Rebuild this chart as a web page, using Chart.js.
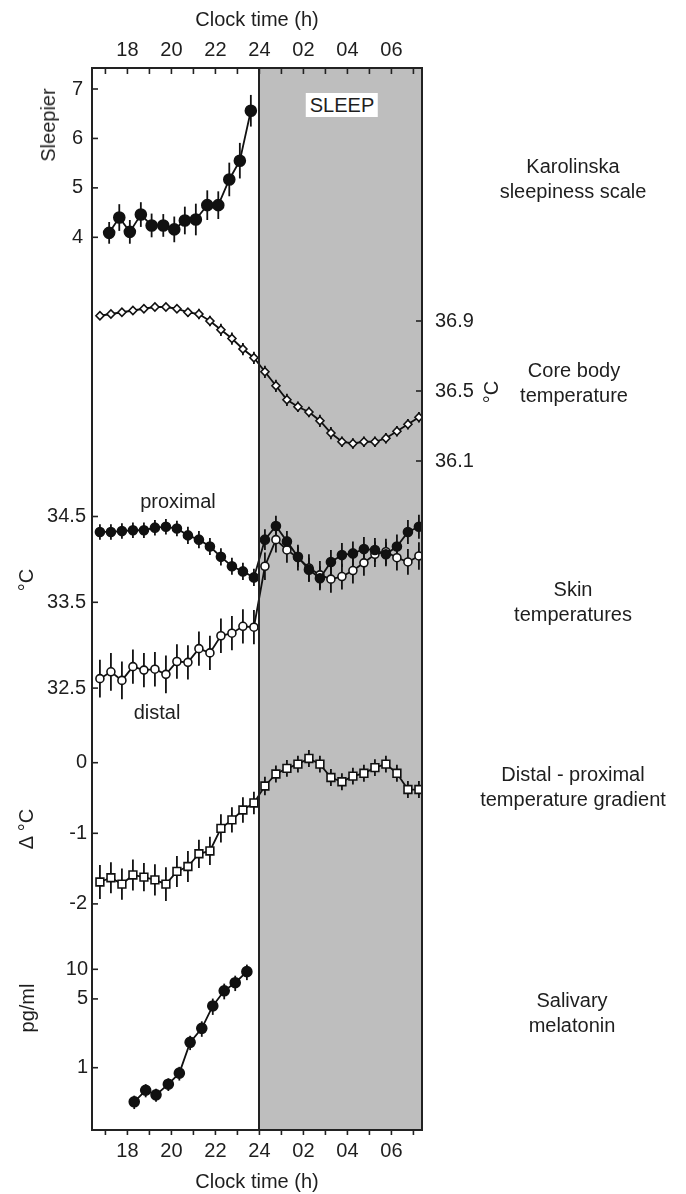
<!DOCTYPE html>
<html>
<head>
<meta charset="utf-8">
<script src="https://cdn.jsdelivr.net/npm/chart.js@4/dist/chart.umd.min.js"></script>
<style>
html,body{margin:0;padding:0;background:#fff;}
#wrap{position:relative;width:686px;height:1194px;overflow:hidden;font-family:"Liberation Sans",Arial,Helvetica,sans-serif;color:#1e1e1e;}
canvas{position:absolute;left:0;top:0;}
.t{position:absolute;font-size:20px;line-height:25px;white-space:nowrap;transform:translate(-50%,-50%);text-align:center;}
.r{position:absolute;font-size:20px;line-height:22px;white-space:nowrap;transform:translate(-50%,-50%) rotate(-90deg);}
.sleep{position:absolute;font-size:20px;line-height:22px;background:#fff;padding:1px 4px;transform:translate(-50%,-50%);}
</style>
</head>
<body>
<div id="wrap">
<canvas id="c" width="686" height="1194"></canvas>
<div class="sleep" style="left:342px;top:105px;">SLEEP</div>
<div class="r" style="left:48px;top:125px;">Sleepier</div>
<div class="r" style="left:491px;top:392px;">°C</div>
<div class="r" style="left:26px;top:580px;">°C</div>
<div class="r" style="left:26px;top:829px;">Δ °C</div>
<div class="r" style="left:27px;top:1008px;">pg/ml</div>
<div class="t" style="left:178px;top:501px;">proximal</div>
<div class="t" style="left:157px;top:712px;">distal</div>
<div class="t" style="left:573px;top:179px;">Karolinska<br>sleepiness scale</div>
<div class="t" style="left:574px;top:383px;">Core body<br>temperature</div>
<div class="t" style="left:573px;top:602px;">Skin<br>temperatures</div>
<div class="t" style="left:573px;top:787px;">Distal - proximal<br>temperature gradient</div>
<div class="t" style="left:572px;top:1013px;">Salivary<br>melatonin</div>
</div>
<script>
// ---------------- data ----------------
const sleepStart = 24;
const xTickHours = [17,18,19,20,21,22,23,24,25,26,27,28,29,30,31];
const xLabelHours = [18,20,22,24,26,28,30];
const xLabels = ['18','20','22','24','02','04','06'];

const hours = [16.75,17.25,17.75,18.25,18.75,19.25,19.75,20.25,20.75,21.25,21.75,22.25,22.75,23.25,23.75,
               24.25,24.75,25.25,25.75,26.25,26.75,27.25,27.75,28.25,28.75,29.25,29.75,30.25,30.75,31.25];

const kssHours = [17.17,17.63,18.11,18.61,19.1,19.63,20.13,20.61,21.11,21.63,22.13,22.63,23.11,23.61];
const kss      = [4.09,4.40,4.11,4.46,4.24,4.24,4.16,4.34,4.36,4.65,4.65,5.17,5.55,6.56];
const kssErr   = [0.22,0.27,0.24,0.25,0.24,0.23,0.26,0.28,0.32,0.30,0.28,0.34,0.36,0.32];
const kssTicks = [4,5,6,7];

const coreTemp = [36.93,36.94,36.95,36.96,36.97,36.98,36.98,36.97,36.95,36.94,36.90,36.85,36.80,36.74,36.69,
                  36.61,36.53,36.45,36.41,36.38,36.33,36.26,36.21,36.20,36.21,36.21,36.23,36.27,36.31,36.35];
const coreErr  = [0.02,0.02,0.02,0.02,0.02,0.02,0.02,0.02,0.025,0.03,0.03,0.035,0.035,0.035,0.035,
                  0.035,0.035,0.035,0.03,0.03,0.035,0.035,0.03,0.03,0.03,0.03,0.03,0.03,0.03,0.03];
const coreTicks = [36.1,36.5,36.9];

const proximal    = [34.32,34.32,34.33,34.34,34.34,34.37,34.38,34.36,34.28,34.23,34.15,34.03,33.92,33.86,33.79,
                     34.23,34.39,34.21,34.03,33.88,33.78,33.97,34.05,34.07,34.12,34.11,34.06,34.15,34.32,34.38];
const proximalErr = [0.09,0.09,0.09,0.09,0.09,0.09,0.09,0.09,0.1,0.1,0.1,0.1,0.1,0.1,0.1,
                     0.12,0.12,0.12,0.12,0.14,0.14,0.14,0.14,0.14,0.14,0.14,0.14,0.14,0.14,0.14];
const distal      = [32.61,32.69,32.59,32.75,32.71,32.72,32.66,32.81,32.80,32.96,32.91,33.11,33.14,33.22,33.21,
                     33.92,34.23,34.11,34.02,33.90,33.82,33.77,33.80,33.87,33.96,34.06,34.09,34.02,33.97,34.04];
const distalErr   = [0.22,0.22,0.22,0.2,0.2,0.2,0.22,0.2,0.2,0.2,0.2,0.2,0.2,0.2,0.2,
                     0.16,0.15,0.15,0.15,0.16,0.16,0.16,0.15,0.15,0.15,0.15,0.15,0.15,0.15,0.16];
const skinTicks = [32.5,33.5,34.5];

const gradient    = [-1.69,-1.63,-1.72,-1.59,-1.62,-1.66,-1.72,-1.54,-1.47,-1.29,-1.25,-0.93,-0.81,-0.67,-0.57,
                     -0.33,-0.16,-0.08,-0.02,0.06,-0.02,-0.21,-0.27,-0.19,-0.15,-0.07,-0.02,-0.15,-0.38,-0.38];
const gradientErr = [0.24,0.22,0.22,0.22,0.2,0.22,0.24,0.22,0.22,0.2,0.2,0.2,0.18,0.18,0.16,
                     0.13,0.12,0.12,0.12,0.12,0.12,0.12,0.12,0.12,0.12,0.12,0.12,0.12,0.12,0.12];
const gradTicks = [-2,-1,0];
const gradLabels = ['-2','-1','0'];

const melHours = [18.31,18.83,19.3,19.86,20.36,20.85,21.38,21.88,22.4,22.9,23.43];
const melatonin = [0.45,0.59,0.53,0.68,0.88,1.81,2.51,4.24,6.05,7.31,9.46];
const melErr    = [0.07,0.09,0.08,0.1,0.14,0.3,0.45,0.8,1.1,1.3,1.7];
const melTicks = [1,5,10];

// ---------------- layout ----------------
const AREA_TOP = 68, AREA_BOTTOM = 1130;
const FONT = {family:'"Liberation Sans", Arial, sans-serif', size:20};
const INK = '#1e1e1e';

function linRange(v1, p1, v2, p2){
  const k = (p1 - p2) / (v2 - v1); // px per unit
  return {min: v1 - (AREA_BOTTOM - p1) / k, max: v1 + (p1 - AREA_TOP) / k};
}
function logRange(v1, p1, v2, p2){
  const l1 = Math.log10(v1), l2 = Math.log10(v2);
  const k = (p1 - p2) / (l2 - l1);
  return {min: Math.pow(10, l1 - (AREA_BOTTOM - p1) / k), max: Math.pow(10, l1 + (p1 - AREA_TOP) / k)};
}

function yAxis(position, range, tickVals, tickLabels, pad, type){
  return {
    type: type || 'linear', position, min: range.min, max: range.max,
    grid: {display:false, drawTicks:false}, border: {display:false},
    afterBuildTicks: s => { s.ticks = tickVals.map(v => ({value:v})); },
    afterFit: s => { s.width = 0; s._computeLabelArea = () => undefined; },
    ticks: {autoSkip:false, padding:pad, color:INK, font:FONT,
            callback: (v) => { const i = tickVals.indexOf(v); return i >= 0 ? tickLabels[i] : ''; }}
  };
}
function xAxis(position, height, pad, titlePad){
  return {
    type:'linear', position, min: 16.39, max: 31.39,
    grid: {display:false, drawTicks:false}, border: {display:false},
    afterBuildTicks: s => { s.ticks = xTickHours.map(v => ({value:v})); },
    afterFit: s => { s.height = height; },
    ticks: {autoSkip:false, maxRotation:0, minRotation:0, padding:pad, color:INK, font:FONT,
            callback: (v) => { const i = xLabelHours.indexOf(v); return i >= 0 ? xLabels[i] : ''; }},
    title: {display:true, text:'Clock time (h)', color:INK, font:FONT, padding:titlePad}
  };
}

const pts = (xs, ys) => xs.map((x, i) => ({x, y: ys[i]}));

const frameTicks = [
  {axis:'yK', vals:kssTicks, dir:1},
  {axis:'yS', vals:skinTicks, dir:1},
  {axis:'yG', vals:gradTicks, dir:1},
  {axis:'yM', vals:melTicks, dir:1},
  {axis:'yC', vals:coreTicks, dir:-1}
];

const framePlugin = {
  id:'frame',
  beforeDatasetsDraw(chart){
    const {ctx, chartArea:a, scales} = chart;
    const x24 = scales.x.getPixelForValue(sleepStart);
    ctx.save();
    ctx.fillStyle = '#bebebe';
    ctx.fillRect(x24, a.top, a.right - x24, a.bottom - a.top);
    ctx.strokeStyle = '#111';
    ctx.lineWidth = 1.8;
    chart.data.datasets.forEach((ds, i) => {
      if (!ds.errors) return;
      const meta = chart.getDatasetMeta(i);
      const ys = scales[ds.yAxisID];
      meta.data.forEach((pt, j) => {
        const v = ds.data[j].y, e = ds.errors[j];
        ctx.beginPath();
        ctx.moveTo(pt.x, ys.getPixelForValue(v - e));
        ctx.lineTo(pt.x, ys.getPixelForValue(v + e));
        ctx.stroke();
      });
    });
    ctx.restore();
  },
  afterDraw(chart){
    const {ctx, chartArea:a, scales} = chart;
    ctx.save();
    ctx.strokeStyle = '#222';
    ctx.lineWidth = 2;
    ctx.strokeRect(a.left, a.top, a.right - a.left, a.bottom - a.top);
    const x24 = Math.round(scales.x.getPixelForValue(sleepStart));
    ctx.beginPath(); ctx.moveTo(x24, a.top); ctx.lineTo(x24, a.bottom); ctx.stroke();
    ctx.lineWidth = 1.6;
    xTickHours.forEach(h => {
      const px = scales.x.getPixelForValue(h);
      ctx.beginPath(); ctx.moveTo(px, a.top); ctx.lineTo(px, a.top + 6); ctx.stroke();
      ctx.beginPath(); ctx.moveTo(px, a.bottom); ctx.lineTo(px, a.bottom + 5); ctx.stroke();
    });
    frameTicks.forEach(f => {
      const s = scales[f.axis];
      const x0 = f.dir > 0 ? a.left : a.right;
      f.vals.forEach(v => {
        const py = s.getPixelForValue(v);
        ctx.beginPath(); ctx.moveTo(x0, py); ctx.lineTo(x0 + f.dir * 6, py); ctx.stroke();
      });
    });
    ctx.restore();
  }
};

const lineBase = {borderColor:'#111', borderWidth:1.8, tension:0, pointBorderColor:'#111', pointBorderWidth:1.6, xAxisID:'x'};

new Chart(document.getElementById('c'), {
  type:'line',
  data:{datasets:[
    Object.assign({}, lineBase, {label:'Karolinska sleepiness scale', yAxisID:'yK', data:pts(kssHours, kss), errors:kssErr,
      pointStyle:'circle', pointRadius:5.5, pointBackgroundColor:'#111'}),
    Object.assign({}, lineBase, {label:'Core body temperature', yAxisID:'yC', data:pts(hours, coreTemp), errors:coreErr,
      pointStyle:'rectRot', pointRadius:4, pointBackgroundColor:'#fff'}),
    Object.assign({}, lineBase, {label:'proximal', yAxisID:'yS', data:pts(hours, proximal), errors:proximalErr,
      pointStyle:'circle', pointRadius:4.5, pointBackgroundColor:'#111'}),
    Object.assign({}, lineBase, {label:'distal', yAxisID:'yS', data:pts(hours, distal), errors:distalErr,
      pointStyle:'circle', pointRadius:4, pointBackgroundColor:'#fff'}),
    Object.assign({}, lineBase, {label:'Distal - proximal temperature gradient', yAxisID:'yG', data:pts(hours, gradient), errors:gradientErr,
      pointStyle:'rect', pointRadius:5.5, pointBackgroundColor:'#fff'}),
    Object.assign({}, lineBase, {label:'Salivary melatonin', yAxisID:'yM', data:pts(melHours, melatonin), errors:melErr,
      pointStyle:'circle', pointRadius:5, pointBackgroundColor:'#111'})
  ]},
  options:{
    responsive:false, animation:false, devicePixelRatio:1,
    layout:{padding:{left:92, right:264, top:0, bottom:0}},
    plugins:{legend:{display:false}, tooltip:{enabled:false}},
    scales:{
      x: xAxis('bottom', 64, 9, {top:0, bottom:0}),
      x2: xAxis('top', 68, 6, {top:8, bottom:0}),
      yK: yAxis('left', linRange(4, 237.3, 7, 89), kssTicks, kssTicks.map(String), 9),
      yS: yAxis('left', linRange(34.5, 516.5, 33.5, 602.3), skinTicks, skinTicks.map(String), 6),
      yG: yAxis('left', linRange(0, 762.7, -1, 833.3), gradTicks, gradLabels, 5),
      yM: yAxis('left', logRange(1, 1067.7, 10, 969.3), melTicks, melTicks.map(String), 4, 'logarithmic'),
      yC: yAxis('right', linRange(36.5, 391, 36.9, 321), coreTicks, coreTicks.map(String), 13)
    }
  },
  plugins:[framePlugin]
});
</script>
</body>
</html>
